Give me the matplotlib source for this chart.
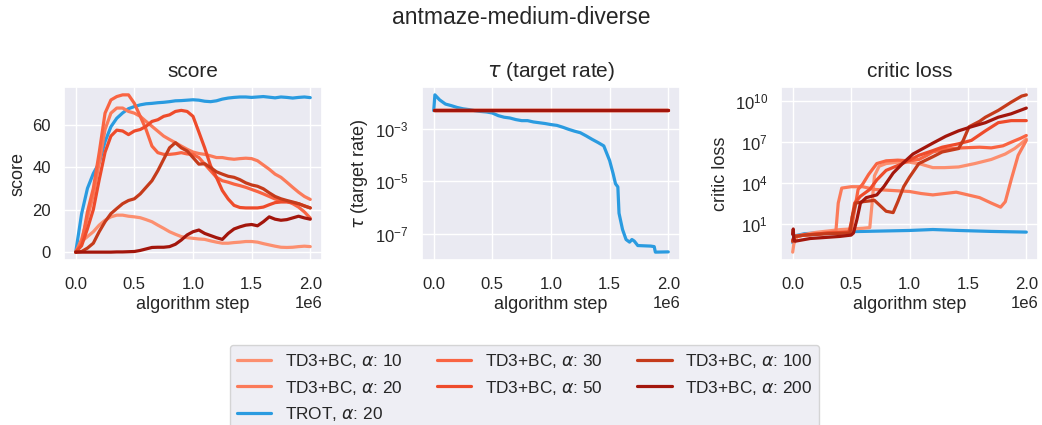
import numpy as np
import matplotlib
matplotlib.use("Agg")
import matplotlib.pyplot as plt
from matplotlib.lines import Line2D
import seaborn as sns

sns.set_theme(style="darkgrid")
plt.rcParams["font.family"] = ["Liberation Sans", "DejaVu Sans"]

# ---- data (steps in units of 1e6) ----
score_steps = np.arange(41) * 0.05

score_trot = [0, 18, 30, 37, 42, 52, 59, 63, 65.5, 67.5, 68.5, 69.3, 69.8, 70, 70.3, 70.5, 70.8,
              71.2, 71.3, 71.5, 71.7, 71.5, 71, 70.8, 71.2, 72, 72.5, 72.8, 73, 73, 72.8, 73, 73.2,
              72.9, 72.6, 73, 72.8, 72.5, 72.8, 73, 72.7]
score_a10 = [0, 5, 7.3, 9.6, 12.7, 15, 16.6, 17.4, 17.4, 16.9, 16.6, 16.2, 15.3, 14.3, 12.7, 11.2,
             9.6, 8.4, 7.3, 6.8, 6.5, 6.2, 6, 5.3, 4.7, 4.2, 4.2, 4.5, 4.7, 5, 5, 4.7, 4, 3.4, 2.8,
             2.3, 2.2, 2.3, 2.6, 2.8, 2.6]
score_a20 = [0, 6, 16, 27, 42, 57.7, 65.4, 67.8, 67.8, 66.2, 65.4, 63.9, 61.5, 59.2, 56.9, 54.6,
             53, 51.5, 49.9, 48.4, 47.1, 46.4, 46, 45.3, 44.5, 44.5, 44, 43.7, 44, 44.2, 44, 43, 41,
             39, 36.7, 35.2, 32.9, 30.5, 28.2, 26.2, 24.8]
score_a30 = [0, 4, 19, 30, 46.8, 65.4, 71.6, 73.2, 74, 74, 70, 63.9, 57.7, 49.9, 46.8, 46, 46,
             46.3, 46.8, 46.2, 46, 44.5, 41.4, 38.3, 35.2, 33.6, 32.9, 32, 31.3, 30.5, 29.5, 28.5,
             27.4, 26.2, 25, 24.3, 23.9, 22.8, 21.2, 18.9, 16]
score_a50 = [0, 3, 11, 20, 34, 47, 54.6, 57.4, 57, 55.3, 57, 57.7, 59.2, 61.5, 62.3, 63.9, 64.6,
             66.2, 66.7, 66.2, 63.9, 56.5, 49, 40.6, 35.2, 29, 25, 22, 21, 20.8, 20.8, 20.8, 21.2,
             22.3, 23.3, 23.6, 23.6, 23.3, 22.8, 21.8, 20.8]
score_a100 = [0, 0.3, 1.9, 4.2, 9.6, 14.3, 18.1, 20.5, 22.8, 24.3, 25.1, 27.4, 30.5, 33.6, 38.3,
              43.7, 49.1, 51.5, 49.1, 47.6, 44.5, 41.4, 41.6, 39.8, 37.8, 36.7, 35.7, 35.2, 34.1,
              32.6, 31.6, 31, 29.8, 27.9, 26.2, 25.1, 24.3, 23.6, 22.8, 21.7, 20.8]
score_a200 = [0, 0, 0, 0, 0, 0, 0, 0.1, 0.1, 0.2, 0.3, 0.8, 1.5, 2.2, 2.3, 2.3, 2.6, 3.7, 5.7, 8.1,
              9.6, 10.4, 8.8, 7.8, 6.8, 6, 8.8, 10.9, 11.9, 12.7, 13, 12.4, 14.3, 16.6, 15.5, 15,
              15.3, 16.1, 16.9, 16.1, 15.5]

# target rate (log10); all TD3+BC runs use a fixed rate
tau_fixed = 5e-3
tau_trot_steps = [0, 0.01, 0.05, 0.1, 0.15, 0.2, 0.25, 0.3, 0.35, 0.4, 0.45, 0.5, 0.55, 0.6,
                  0.65, 0.7, 0.75, 0.8, 0.85, 0.9, 0.95, 1.0, 1.05, 1.1, 1.15, 1.2, 1.25, 1.3,
                  1.35, 1.4, 1.45, 1.5, 1.53, 1.55, 1.57, 1.58, 1.61, 1.64, 1.67, 1.69, 1.71,
                  1.74, 1.85, 1.88, 1.89, 2.0]
tau_trot_log = [-2.31, -1.71, -1.90, -2.06, -2.12, -2.19, -2.24, -2.27, -2.31, -2.34, -2.36,
                -2.40, -2.50, -2.56, -2.59, -2.65, -2.69, -2.69, -2.74, -2.77, -2.80, -2.84,
                -2.87, -2.94, -3.02, -3.09, -3.15, -3.27, -3.40, -3.52, -3.65, -4.21, -4.71,
                -5.09, -5.21, -6.21, -6.83, -7.21, -7.31, -7.21, -7.27, -7.44, -7.46, -7.48,
                -7.69, -7.68]

# critic loss (log10)
critic_trot_steps = [0, 0.01, 0.1, 0.3, 0.6, 1.0, 1.2, 1.42, 1.7, 2.0]
critic_trot_log = [-0.4, 0.08, 0.25, 0.37, 0.42, 0.49, 0.56, 0.49, 0.42, 0.37]
critic_a10_steps = [0, 0.01, 0.04, 0.2, 0.4, 0.6, 0.66, 0.68, 0.7, 0.74, 0.8, 0.9, 1.0, 1.1,
                    1.2, 1.3, 1.42, 1.56, 1.7, 1.82, 1.9, 1.96, 2.0]
critic_a10_log = [-1.1, -0.5, 0.1, 0.35, 0.55, 0.65, 0.7, 2.5, 4.5, 5.2, 5.4, 5.5, 5.5, 5.35,
                  5.1, 5.1, 5.15, 5.4, 5.7, 6.1, 6.5, 6.9, 7.2]
critic_a20_steps = [0, 0.02, 0.1, 0.3, 0.37, 0.39, 0.42, 0.5, 0.6, 0.65, 0.7, 0.8, 0.9, 1.0,
                    1.1, 1.2, 1.3, 1.4, 1.5, 1.6, 1.7, 1.78, 1.82, 1.87, 1.93, 2.0]
critic_a20_log = [-0.3, 0.05, 0.15, 0.3, 0.45, 2.5, 3.6, 3.7, 3.7, 3.6, 3.5, 3.45, 3.4, 3.35,
                  3.2, 3.1, 3.2, 3.3, 3.1, 2.9, 2.5, 2.2, 2.6, 4.2, 6.0, 7.1]
critic_a30_steps = [0, 0.02, 0.1, 0.3, 0.5, 0.53, 0.56, 0.6, 0.65, 0.72, 0.8, 0.9, 1.0, 1.08,
                    1.15, 1.2, 1.3, 1.45, 1.6, 1.7, 1.8, 1.88, 1.95, 2.0]
critic_a30_log = [-0.3, 0.05, 0.15, 0.3, 0.4, 2.0, 3.5, 3.9, 4.6, 5.4, 5.6, 5.65, 5.6, 5.7, 6.0,
                  6.25, 6.45, 6.55, 6.6, 6.55, 6.7, 7.0, 7.25, 7.46]
critic_a50_steps = [0, 0.02, 0.1, 0.3, 0.48, 0.5, 0.53, 0.58, 0.66, 0.72, 0.8, 0.94, 1.08, 1.2,
                    1.28, 1.42, 1.53, 1.65, 1.76, 1.87, 2.0]
critic_a50_log = [-0.2, 0.05, 0.15, 0.3, 0.35, 1.0, 2.5, 3.0, 3.5, 4.2, 4.9, 5.4, 6.0, 6.35,
                  6.6, 6.85, 7.1, 7.8, 8.4, 8.55, 8.55]
critic_a100_steps = [0, 0.02, 0.1, 0.3, 0.49, 0.51, 0.54, 0.6, 0.7, 0.75, 0.8, 0.86, 0.9, 0.95,
                     1.0, 1.08, 1.2, 1.28, 1.42, 1.46, 1.51, 1.6, 1.65, 1.76, 1.87, 1.96, 2.0]
critic_a100_log = [-0.3, 0.05, 0.15, 0.25, 0.3, 1.5, 2.5, 2.6, 2.7, 2.3, 1.9, 1.8, 2.6, 3.7,
                   4.4, 5.4, 5.9, 6.25, 6.5, 7.1, 8.1, 8.5, 8.8, 9.3, 9.9, 10.35, 10.44]
critic_a200_steps = [0, 0.005, 0.01, 0.02, 0.15, 0.4, 0.5, 0.52, 0.55, 0.58, 0.63, 0.72, 0.78,
                     0.86, 0.94, 1.03, 1.2, 1.31, 1.42, 1.53, 1.65, 1.76, 1.87, 2.0]
critic_a200_log = [0.2, 0.6, -0.2, -0.3, -0.1, 0.05, 0.15, 0.3, 1.3, 2.5, 2.9, 3.1, 3.7, 4.7,
                   5.4, 6.1, 6.9, 7.4, 7.8, 8.1, 8.4, 8.8, 9.05, 9.47]

alphas = [10, 20, 30, 50, 100, 200]
td3_colors = ["#fc8f6f", "#fb7a59", "#f96442", "#ee4b2b", "#c53b1b", "#a3160c"]
trot_color = "#2a9be0"

td3_score = [score_a10, score_a20, score_a30, score_a50, score_a100, score_a200]
td3_critic = [(critic_a10_steps, critic_a10_log), (critic_a20_steps, critic_a20_log),
              (critic_a30_steps, critic_a30_log), (critic_a50_steps, critic_a50_log),
              (critic_a100_steps, critic_a100_log), (critic_a200_steps, critic_a200_log)]

lw = 2.3
fig = plt.figure(figsize=(10.42, 4.25), dpi=100)
W, H = 1042, 425
rects = [(64, 87, 258, 173), (422, 87, 258, 173), (781, 87, 257, 173)]
axes = [fig.add_axes([x / W, 1 - (y + h) / H, w / W, h / H]) for x, y, w, h in rects]
ax1, ax2, ax3 = axes

# score
ax1.plot(score_steps * 1e6, score_trot, color=trot_color, lw=lw)
for vals, c in zip(td3_score, td3_colors):
    ax1.plot(score_steps * 1e6, vals, color=c, lw=lw)
ax1.set_yticks([0, 20, 40, 60])

# target rate
ax2.plot(np.array(tau_trot_steps) * 1e6, 10 ** np.array(tau_trot_log), color=trot_color, lw=lw)
for c in td3_colors:
    ax2.plot([0, 2e6], [tau_fixed, tau_fixed], color=c, lw=lw)
ax2.set_yscale("log")
ax2.set_yticks([1e-3, 1e-5, 1e-7])
ax2.minorticks_off()

# critic loss
ax3.plot(np.array(critic_trot_steps) * 1e6, 10 ** np.array(critic_trot_log), color=trot_color, lw=lw)
for (xs, ys), c in zip(td3_critic, td3_colors):
    ax3.plot(np.array(xs) * 1e6, 10 ** np.array(ys), color=c, lw=lw)
ax3.set_yscale("log")
ax3.set_yticks([1e1, 1e4, 1e7, 1e10])
ax3.minorticks_off()

titles = ["score", r"$\tau$ (target rate)", "critic loss"]
for ax, t in zip(axes, titles):
    ax.set_title(t, fontsize=15, pad=7)
    ax.set_ylabel(t, fontsize=13)
    ax.set_xlabel("algorithm step", fontsize=13, labelpad=3)
    ax.set_xticks([0, 0.5e6, 1e6, 1.5e6, 2e6])
    ax.tick_params(axis="x", labelsize=12, pad=6.3)
    ax.tick_params(axis="y", labelsize=12)
    ax.xaxis.get_offset_text().set_fontsize(12)

fig.suptitle("antmaze-medium-diverse", y=0.96, va="center", fontsize=16.5)

handles = [Line2D([], [], color=c, lw=lw) for c in td3_colors]
labels = [rf"TD3+BC, $\alpha$: {a}" for a in alphas]
trot_handle = Line2D([], [], color=trot_color, lw=lw)
order_h = [handles[0], handles[1], trot_handle, handles[2], handles[3], handles[4], handles[5]]
order_l = [labels[0], labels[1], r"TROT, $\alpha$: 20", labels[2], labels[3], labels[4], labels[5]]
fig.legend(order_h, order_l, loc="upper center", bbox_to_anchor=(0.5034, 0.1882), ncol=3,
           fontsize=12.4, frameon=True, borderaxespad=0)

fig.savefig("out.png", dpi=100)
